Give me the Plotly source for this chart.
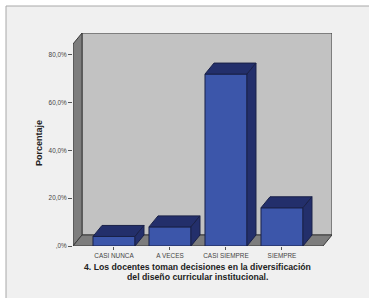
import plotly.graph_objects as go

categories = ["CASI NUNCA", "A VECES", "CASI SIEMPRE", "SIEMPRE"]
percent = [4.0, 8.0, 72.0, 16.0]
y_tick_values = [0, 20, 40, 60, 80]
y_tick_labels = [",0%", "20,0%", "40,0%", "60,0%", "80,0%"]
x_title_lines = ["4. Los docentes toman decisiones en la diversificación",
                 "del diseño curricular institucional."]
y_title = "Porcentaje"

W, H = 369, 298
L, R, T, B = 73, 37, 33, 52
plot_w = W - L - R
plot_h = H - T - B
xr = [-0.732, 3.893]
yr = [0, 89.2]
px_x = plot_w / (xr[1] - xr[0])
px_y = plot_h / (yr[1] - yr[0])
dx = 9 / px_x
dy = 11 / px_y
bw = 0.75

FRONT = "#3c56aa"
DARK = "#232f6b"
EDGE = "#1a2148"
WALL = "#c2c2c2"
SIDE = "#7d7d7d"
LINE = "#3a3a3a"


def poly(pts):
    return "M " + " L ".join(f"{x},{y}" for x, y in pts) + " Z"


def px2paper(px, py):
    return (px - L) / plot_w, (H - B - py) / plot_h


shapes = []
# outer frame
fx0, fy0 = px2paper(6, 6)
fx1, fy1 = px2paper(W + 5, H + 5)
shapes.append(dict(type="rect", xref="paper", yref="paper", x0=fx0, y0=fy1, x1=fx1, y1=fy0,
                   fillcolor="#f0f0f0", line=dict(color="#a8a8a8", width=1), layer="below"))
# back wall
shapes.append(dict(type="path", xref="x", yref="y",
                   path=poly([(xr[0] + dx, dy), (xr[1], dy), (xr[1], yr[1]), (xr[0] + dx, yr[1])]),
                   fillcolor=WALL, line=dict(color=LINE, width=1), layer="below"))
# left wall
shapes.append(dict(type="path", xref="x", yref="y",
                   path=poly([(xr[0], 0), (xr[0] + dx, dy), (xr[0] + dx, yr[1]), (xr[0], yr[1] - dy)]),
                   fillcolor=SIDE, line=dict(color=LINE, width=1), layer="below"))
# floor
shapes.append(dict(type="path", xref="x", yref="y",
                   path=poly([(xr[0], 0), (xr[1] - dx, 0), (xr[1], dy), (xr[0] + dx, dy)]),
                   fillcolor=SIDE, line=dict(color=LINE, width=1), layer="below"))

idx = list(range(len(categories)))
for i, v in zip(idx, percent):
    x0, x1 = i - bw / 2, i + bw / 2
    shapes.append(dict(type="path", xref="x", yref="y",
                       path=poly([(x0, v), (x1, v), (x1 + dx, v + dy), (x0 + dx, v + dy)]),
                       fillcolor=DARK, line=dict(color=EDGE, width=1), layer="above"))
    shapes.append(dict(type="path", xref="x", yref="y",
                       path=poly([(x1, 0), (x1, v), (x1 + dx, v + dy), (x1 + dx, dy)]),
                       fillcolor=DARK, line=dict(color=EDGE, width=1), layer="above"))

fig = go.Figure()
fig.add_trace(go.Bar(x=idx, y=percent, width=bw,
                     marker=dict(color=FRONT, line=dict(color=EDGE, width=1)),
                     hoverinfo="skip"))

annotations = []
for line_text, py in zip(x_title_lines, [266.5, 276.5]):
    tx, ty = px2paper(197, py)
    annotations.append(dict(text="<b>" + line_text + "</b>", xref="paper", yref="paper", x=tx, y=ty,
                            showarrow=False, font=dict(size=8.7, color="#222222"),
                            xanchor="center", yanchor="middle"))
ax_x, ax_y = px2paper(39, 143)
annotations.append(dict(text="<b>" + y_title + "</b>", xref="paper", yref="paper", x=ax_x, y=ax_y,
                        showarrow=False, textangle=-90, font=dict(size=9, color="#222222"),
                        xanchor="center", yanchor="middle"))

fig.update_layout(
    width=W, height=H,
    margin=dict(l=L, r=R, t=T, b=B),
    paper_bgcolor="white",
    plot_bgcolor="rgba(0,0,0,0)",
    showlegend=False,
    shapes=shapes,
    font=dict(family="Liberation Sans, Arial, sans-serif", color="#333333"),
    xaxis=dict(range=xr, tickvals=idx, ticktext=categories, showgrid=False, zeroline=False,
               showline=False, ticks="outside", ticklen=3, tickcolor="#555555",
               tickfont=dict(size=6.4, color="#444444")),
    yaxis=dict(range=yr, tickvals=y_tick_values, ticktext=y_tick_labels, showgrid=False,
               zeroline=False, showline=False, ticks="outside", ticklen=4, tickcolor="#555555",
               tickfont=dict(size=6.4, color="#444444")),
    annotations=annotations,
)

fig.write_html("out.html", config={"displayModeBar": False},
               post_script="document.body.style.margin='0px';")
